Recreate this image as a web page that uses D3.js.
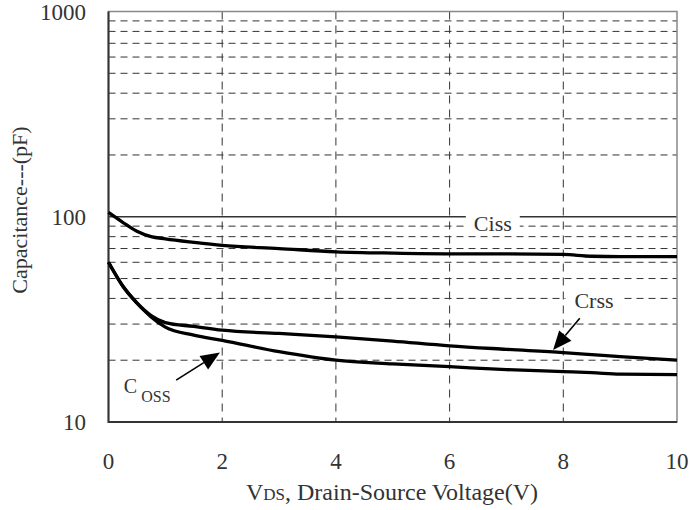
<!DOCTYPE html>
<html>
<head>
<meta charset="utf-8">
<script src="https://cdn.jsdelivr.net/npm/d3@7"></script>
<style>
  body { margin: 0; background: #fff; }
  svg { display: block; font-family: "Liberation Serif", "Times New Roman", serif; }
</style>
</head>
<body>
<svg id="chart"></svg>
<script>
// voltage points (V)
const vds = [0, 0.25, 0.5, 0.75, 1, 1.5, 2, 3, 4, 5, 6, 7, 8, 8.5, 9, 10];
// capacitances (pF)
const ciss = [105, 94, 85, 80, 78, 75, 72.5, 70, 67.5, 66.5, 66, 66, 65.5, 64.2, 64, 64];
const coss = [60, 46, 38, 32.5, 29, 26.5, 25, 22, 20, 19.2, 18.6, 18, 17.6, 17.4, 17.1, 17];
const crss = [60, 46, 38, 33, 30.5, 29.2, 28, 27, 26, 24.8, 23.5, 22.6, 21.8, 21.3, 20.8, 20];

const xTicks = [0, 2, 4, 6, 8, 10];
const yTicks = [10, 100, 1000];
const yGrid = [20, 30, 40, 50, 60, 70, 80, 90, 200, 300, 400, 500, 600, 700, 800, 900];

const W = 691, H = 510;
const margin = { top: 11.5, right: 14, bottom: 88, left: 108.5 };
const width = W - margin.left - margin.right;
const height = H - margin.top - margin.bottom;

const svg = d3.select('#chart')
  .attr('width', W)
  .attr('height', H);

const g = svg.append('g')
  .attr('transform', `translate(${margin.left},${margin.top})`);

const x = d3.scaleLinear().domain([0, 10]).range([0, width]);
const y = d3.scaleLog().domain([10, 1000]).range([height, 0]);

// dashed grid
g.selectAll('.hgrid')
  .data(yGrid)
  .join('line')
  .attr('x1', 0).attr('x2', width)
  .attr('y1', d => y(d)).attr('y2', d => y(d))
  .attr('stroke', '#333')
  .attr('stroke-width', 1)
  .attr('stroke-dasharray', '7,5');

g.selectAll('.vgrid')
  .data(xTicks.slice(1, -1))
  .join('line')
  .attr('x1', d => x(d)).attr('x2', d => x(d))
  .attr('y1', 0).attr('y2', height)
  .attr('stroke', '#333')
  .attr('stroke-width', 1)
  .attr('stroke-dasharray', '8,6');

// solid line at 100
g.append('line')
  .attr('x1', 0).attr('x2', width)
  .attr('y1', y(100)).attr('y2', y(100))
  .attr('stroke', '#333')
  .attr('stroke-width', 1.3);

// frame
g.append('rect')
  .attr('width', width).attr('height', height)
  .attr('fill', 'none')
  .attr('stroke', '#888')
  .attr('stroke-width', 1.5);
g.append('path')
  .attr('d', `M0,0V${height}H${width}`)
  .attr('fill', 'none')
  .attr('stroke', '#333')
  .attr('stroke-width', 2);

// labels (white box cuts the grid behind them)
function label(txt, cx, cy, pad) {
  const t = g.append('text')
    .attr('x', cx).attr('y', cy)
    .attr('text-anchor', 'middle')
    .attr('dominant-baseline', 'central')
    .attr('font-size', 22)
    .attr('fill', '#333')
    .text(txt);
  const b = t.node().getBBox();
  g.insert('rect', 'text')
    .attr('x', b.x - pad).attr('y', b.y)
    .attr('width', b.width + 2 * pad).attr('height', b.height)
    .attr('fill', '#fff');
  t.raise();
}
label('Ciss', x(6.76), y(93), 8);
label('Crss', x(8.54), y(39.3), 9);

// curves
const line = d3.line()
  .x(d => x(d[0]))
  .y(d => y(d[1]))
  .curve(d3.curveMonotoneX);

[ciss, coss, crss].forEach(s => {
  g.append('path')
    .datum(vds.map((v, i) => [v, s[i]]))
    .attr('fill', 'none')
    .attr('stroke', '#000')
    .attr('stroke-width', 3.3)
    .attr('d', line);
});

// arrows
function arrow(x0, y0, x1, y1) {
  const ang = Math.atan2(y1 - y0, x1 - x0);
  const len = 19, half = 8;
  const bx = x1 - len * Math.cos(ang), by = y1 - len * Math.sin(ang);
  g.append('line')
    .attr('x1', x0).attr('y1', y0).attr('x2', bx).attr('y2', by)
    .attr('stroke', '#000').attr('stroke-width', 1.6);
  g.append('path')
    .attr('d', `M${x1},${y1}L${bx + half * Math.sin(ang)},${by - half * Math.cos(ang)}L${bx - half * Math.sin(ang)},${by + half * Math.cos(ang)}Z`)
    .attr('fill', '#000');
}
arrow(x(8.29), y(32), x(7.82), y(22.4));
arrow(x(1.19), y(16), x(1.96), y(21.8));

// Coss label
const cl = g.append('text')
  .attr('x', x(0.27)).attr('y', y(13.8))
  .attr('font-size', 20)
  .attr('fill', '#333');
cl.append('tspan').text('C');
cl.append('tspan').attr('dx', 4).attr('dy', 9).attr('font-size', 16).text('OSS');

// tick labels
g.selectAll('.xt')
  .data(xTicks)
  .join('text')
  .attr('x', d => x(d))
  .attr('y', height + 47)
  .attr('text-anchor', 'middle')
  .attr('font-size', 23)
  .attr('fill', '#333')
  .text(d => d);

g.selectAll('.yt')
  .data(yTicks)
  .join('text')
  .attr('x', -22.5)
  .attr('y', d => y(d))
  .attr('dy', '0.35em')
  .attr('text-anchor', 'end')
  .attr('font-size', 23)
  .attr('fill', '#333')
  .text(d => d);

// axis titles
const xt = svg.append('text')
  .attr('x', 392).attr('y', 500)
  .attr('text-anchor', 'middle')
  .attr('font-size', 24)
  .attr('fill', '#333');
xt.append('tspan').text('V');
xt.append('tspan').attr('font-size', 17).text('DS');
xt.append('tspan').text(', Drain-Source Voltage(V)');

svg.append('text')
  .attr('transform', 'translate(27,210) rotate(-90)')
  .attr('text-anchor', 'middle')
  .attr('font-size', 22)
  .attr('fill', '#333')
  .text('Capacitance---(pF)');
</script>
</body>
</html>
